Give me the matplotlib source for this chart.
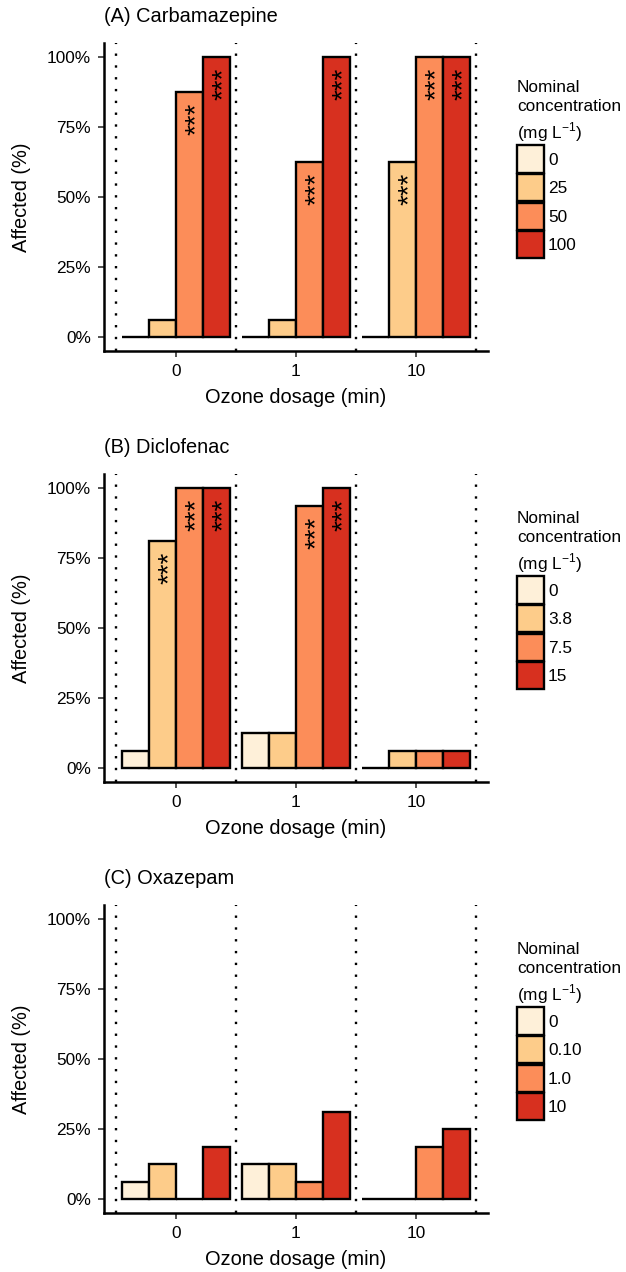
import numpy as np
import matplotlib.pyplot as plt
from matplotlib.patches import Patch

plt.rcParams['font.family'] = ['Liberation Sans', 'DejaVu Sans']
plt.rcParams['mathtext.fontset'] = 'custom'
plt.rcParams['mathtext.rm'] = 'Liberation Sans'

# %% data (percent affected, one list per ozone dosage, 4 concentrations each)
dosages = ['0', '1', '10']
colors = ['#FEF0D9', '#FDCC8A', '#FC8D59', '#D7301F']

carba_title = '(A) Carbamazepine'
carba_conc = ['0', '25', '50', '100']
carba_values = [[0, 6.25, 87.5, 100],
                [0, 6.25, 62.5, 100],
                [0, 62.5, 100, 100]]
carba_sig = [[0, 0, 1, 1],
             [0, 0, 1, 1],
             [0, 1, 1, 1]]

diclo_title = '(B) Diclofenac'
diclo_conc = ['0', '3.8', '7.5', '15']
diclo_values = [[6.25, 81.25, 100, 100],
                [12.5, 12.5, 93.75, 100],
                [0, 6.25, 6.25, 6.25]]
diclo_sig = [[0, 1, 1, 1],
             [0, 0, 1, 1],
             [0, 0, 0, 0]]

oxa_title = '(C) Oxazepam'
oxa_conc = ['0', '0.10', '1.0', '10']
oxa_values = [[6.25, 12.5, 0, 18.75],
              [12.5, 12.5, 6.25, 31.25],
              [0, 0, 18.75, 25]]
oxa_sig = [[0, 0, 0, 0],
           [0, 0, 0, 0],
           [0, 0, 0, 0]]

panels = [(carba_title, carba_conc, carba_values, carba_sig),
          (diclo_title, diclo_conc, diclo_values, diclo_sig),
          (oxa_title, oxa_conc, oxa_values, oxa_sig)]

# %% layout in pixels
W, H = 626, 1272
fig = plt.figure(figsize=(W / 100, H / 100), dpi=100)
tops = [43, 474, 905]
ax_left, ax_right, ax_h = 104, 488, 308
bar_w = 0.225
offsets = [-1.5 * bar_w, -0.5 * bar_w, 0.5 * bar_w, 1.5 * bar_w]
fs_tick = 12.4
fs_title = 14.4
fs_star = 20

for (title, conc, values, sig), top in zip(panels, tops):
    ax = fig.add_axes([ax_left / W, 1 - (top + ax_h) / H,
                       (ax_right - ax_left) / W, ax_h / H])
    for xv in [-0.5, 0.5, 1.5, 2.5]:
        ax.axvline(xv, color='black', lw=1.7, linestyle=(0, (1, 4)),
                   dash_capstyle='butt', zorder=1)
    for g in range(len(dosages)):
        for k in range(len(conc)):
            x = g + offsets[k]
            v = values[g][k]
            ax.bar(x, v, width=bar_w, color=colors[k], edgecolor='black',
                   linewidth=1.7, zorder=2)
            if sig[g][k]:
                # asterisks sit high in the em box, shift so they are centred
                ax.annotate('***', xy=(x, v), xytext=(0.26 * fs_star, -8),
                            textcoords='offset points', rotation=90,
                            ha='center', va='top', fontsize=fs_star, zorder=3)
    ax.set_xlim(-0.6, 2.6)
    ax.set_ylim(-5, 105)
    ax.set_xticks(range(len(dosages)))
    ax.set_xticklabels(dosages)
    ax.set_yticks([0, 25, 50, 75, 100])
    ax.set_yticklabels(['0%', '25%', '50%', '75%', '100%'])
    ax.tick_params(length=4.5, width=1.2, color='#333333', labelsize=fs_tick,
                   pad=5, labelcolor='black')
    for s in ['top', 'right']:
        ax.spines[s].set_visible(False)
    for s in ['left', 'bottom']:
        ax.spines[s].set_linewidth(1.8)
    ax.set_title(title, loc='left', fontsize=fs_title, pad=15)
    ax.set_xlabel('Ozone dosage (min)', fontsize=fs_title, labelpad=6)
    fig.text(22 / W, 1 - (top + ax_h / 2) / H, 'Affected (%)', rotation=90,
             ha='center', va='center', fontsize=fs_title)

    handles = [Patch(facecolor=c, edgecolor='black', linewidth=1.7) for c in colors]
    leg = ax.legend(handles, conc, title='Nominal\nconcentration\n(mg L$^{-1}$)',
                    loc='upper left', bbox_to_anchor=(517 / W, 1 - (top + 37) / H),
                    bbox_transform=fig.transFigure, frameon=False, borderpad=0,
                    borderaxespad=0, handlelength=1.55, handleheight=2.05,
                    handletextpad=0.25, labelspacing=0.08, alignment='left',
                    fontsize=fs_tick, title_fontsize=fs_tick)
    leg.get_title().set_linespacing(1.35)

plt.savefig('out.png', dpi=100)
